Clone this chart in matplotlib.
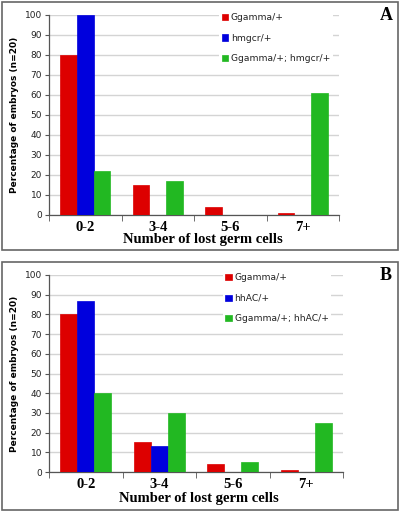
import matplotlib
matplotlib.use("Agg")
import matplotlib.pyplot as plt
import numpy as np
from matplotlib.patches import Rectangle

categories = ["0-2", "3-4", "5-6", "7+"]

labels_a = ["Ggamma/+", "hmgcr/+", "Ggamma/+; hmgcr/+"]
ggamma_a = [80, 15, 4, 1]
hmgcr_a = [100, 0, 0, 0]
double_a = [22, 17, 0, 61]

labels_b = ["Ggamma/+", "hhAC/+", "Ggamma/+; hhAC/+"]
ggamma_b = [80, 15, 4, 1]
hhac_b = [87, 13, 0, 0]
double_b = [40, 30, 5, 25]

colors = ["#dd0000", "#0000dd", "#22b822"]
W, H = 401, 512
width = 0.23

fig = plt.figure(figsize=(W / 100, H / 100), dpi=100)


def px_axes(x0, y0, x1, y1):
    # pixel box (top-left origin) -> figure fraction axes
    return fig.add_axes([x0 / W, (H - y1) / H, (x1 - x0) / W, (y1 - y0) / H])


def panel(ax, series, labels, letter, box, leg_x, xlab_xy):
    x = np.arange(len(categories))
    for i, vals in enumerate(series):
        ax.bar(x + (i - 1) * width, vals, width, color=colors[i],
               edgecolor=colors[i], linewidth=0.5, label=labels[i], zorder=3)
    ax.set_xlim(-0.5, len(categories) - 0.5)
    ax.set_ylim(0, 100)
    ax.set_yticks(range(0, 101, 10))
    ax.yaxis.grid(True, color="#d4d4d4", linewidth=1, zorder=0)
    ax.set_axisbelow(True)
    for s in ["top", "right"]:
        ax.spines[s].set_visible(False)
    for s in ["left", "bottom"]:
        ax.spines[s].set_color("#555555")
        ax.spines[s].set_linewidth(0.9)
    ax.set_xticks(x)
    ax.set_xticklabels(categories, fontfamily="Liberation Serif",
                       fontweight="bold", fontsize=10.5)
    ax.set_xticks(np.arange(len(categories) + 1) - 0.5, minor=True)
    ax.tick_params(axis="x", which="major", length=0, pad=4)
    ax.tick_params(axis="x", which="minor", length=4, color="#555555")
    ax.tick_params(axis="y", length=3, color="#555555", labelsize=6.5,
                   pad=2, labelcolor="#222222")
    ax.set_xlabel("Number of lost germ cells", fontfamily="Liberation Serif",
                  fontweight="bold", fontsize=10.5, va="center")
    ax.xaxis.set_label_coords(*xlab_xy)
    ax.set_ylabel("Percentage of embryos (n=20)", fontweight="bold",
                  fontsize=6.5, labelpad=4)
    leg = ax.legend(loc="upper left", bbox_to_anchor=(leg_x, 1.045),
                    frameon=True, facecolor="white", edgecolor="none",
                    framealpha=1, fontsize=6.6, handlelength=0.7,
                    handleheight=0.7, handletextpad=0.3, labelspacing=1.25,
                    borderpad=0.3)
    leg.set_zorder(5)
    for t in leg.get_texts():
        t.set_color("#222222")
    x0, y0, x1, y1 = box
    fig.patches.append(Rectangle((x0 / W, 1 - y1 / H), (x1 - x0) / W,
                                 (y1 - y0) / H, transform=fig.transFigure,
                                 fill=False, edgecolor="#666666", linewidth=1.2))
    fig.text((x1 - 12) / W, 1 - (y0 + 14) / H, letter, ha="center", va="center",
             fontfamily="Liberation Serif", fontweight="bold", fontsize=13)


ax_a = px_axes(49, 15, 339, 215)
panel(ax_a, [ggamma_a, hmgcr_a, double_a], labels_a, "A", (2, 2, 398, 250),
      0.57, (0.53, -0.125))

ax_b = px_axes(49, 275, 343, 472)
panel(ax_b, [ggamma_b, hhac_b, double_b], labels_b, "B", (2, 262, 398, 510),
      0.575, (0.51, -0.137))

fig.savefig("out.png", dpi=100)
